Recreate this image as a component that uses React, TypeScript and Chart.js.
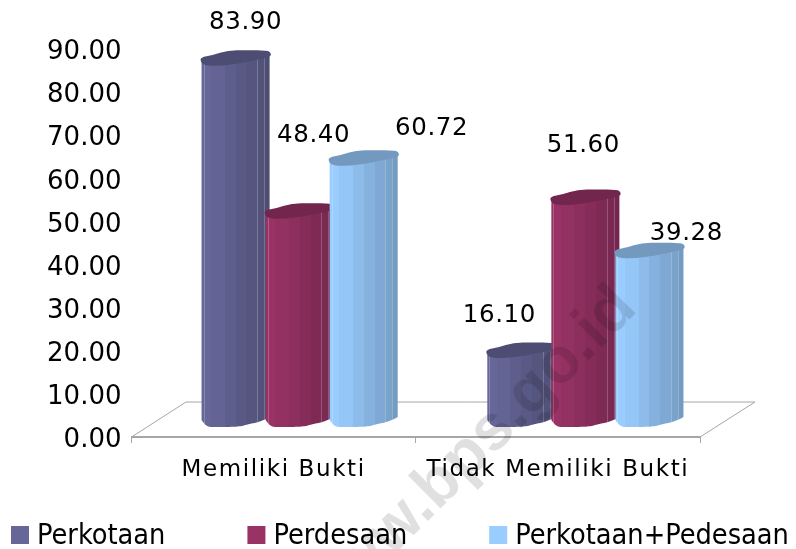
import React, { useEffect, useRef } from "react";
import { Chart, registerables } from "chart.js";

Chart.register(...registerables);

const categories = ["Memiliki Bukti", "Tidak Memiliki Bukti"];
const perkotaan = [83.9, 16.1];
const perdesaan = [48.4, 51.6];
const gabungan = [60.72, 39.28];
const seriesNames = ["Perkotaan", "Perdesaan", "Perkotaan+Pedesaan"];
const seriesColors = [[102, 102, 153], [153, 51, 102], [153, 204, 255]];
const labelOffsets = [
  [[10, -43], [-22, -42]],
  [[14, -83], [-2, -59]],
  [[68, -37], [37, -24]],
];
const groupShift = [26, 27.5];
const FONT = '"DejaVu Sans", sans-serif';

const shade = (c: number[], f: number) => `rgb(${c.map((v) => Math.round(v * f)).join(",")})`;
const facets = [
  [0, 1], [0.14, 0.97], [0.34, 0.92], [0.5, 0.87], [0.66, 0.83], [0.82, 0.8], [0.92, 0.76],
];
// outline of the slightly irregular cylinder cap, relative to its left end and lowest point
const capOutline = [
  [-1, -8], [11, -10], [26, -15], [45, -15], [66, -15], [69.5, -12], [69, -8.5], [56, -5.5], [38, -2], [21, 0.5], [4, 0.5], [-1, -3],
];

const cylinders = {
  id: "cylinders",
  afterLayout(chart: any) {
    const s = chart.scales.x;
    if (!s.__spaced) {
      const orig = s.drawLabels.bind(s);
      s.drawLabels = (area: any) => {
        chart.ctx.save();
        chart.ctx.letterSpacing = "1.6px";
        orig(area);
        chart.ctx.restore();
      };
      s.__spaced = true;
    }
  },
  beforeDatasetsDraw(chart: any) {
    const { ctx, chartArea: a } = chart;
    ctx.save();
    // floor
    ctx.strokeStyle = "#a6a6a6";
    ctx.lineWidth = 1;
    ctx.beginPath();
    ctx.moveTo(a.left, a.bottom);
    ctx.lineTo(a.left + 54.5, a.bottom - 35);
    ctx.lineTo(a.right + 55, a.bottom - 35);
    ctx.lineTo(a.right, a.bottom);
    ctx.stroke();

    chart.data.datasets.forEach((ds: any, di: number) => {
      const color = seriesColors[di];
      chart.getDatasetMeta(di).data.forEach((bar: any, i: number) => {
        const cx = bar.x + groupShift[i];
        const w = bar.width + 4;
        const x = cx - w / 2;
        const Y = bar.y - 10;
        const B = bar.base - 10;
        const u = w / 68;
        const body = new Path2D();
        body.moveTo(x, Y - 6);
        body.lineTo(x + w, Y - 10);
        body.lineTo(x + w, B - 10);
        body.bezierCurveTo(x + 60 * u, B - 5, x + 52 * u, B - 4, x + 44 * u, B - 2);
        body.bezierCurveTo(x + 38 * u, B, x + 30 * u, B, x + 9 * u, B);
        body.bezierCurveTo(x + 5 * u, B, x + 2 * u, B - 4, x, B - 7);
        body.closePath();
        const g = ctx.createLinearGradient(x, 0, x + w, 0);
        facets.forEach(([p, f], k) => {
          const next = k + 1 < facets.length ? facets[k + 1][0] : 1;
          g.addColorStop(p, shade(color, f));
          g.addColorStop(next, shade(color, f));
        });
        ctx.fillStyle = g;
        ctx.fill(body);
        ctx.save();
        ctx.clip(body);
        ctx.strokeStyle = "rgba(255,255,255,0.22)";
        ctx.lineWidth = 1;
        [0.03, 0.82, 0.92].forEach((p) => {
          const lx = Math.round(x + p * w) + 0.5;
          ctx.beginPath();
          ctx.moveTo(lx, Y - 12);
          ctx.lineTo(lx, B);
          ctx.stroke();
        });
        ctx.restore();
        const n = capOutline.length;
        const pt = (k: number) => {
          const [px, py] = capOutline[k % n];
          return [x + px * u, Y + py];
        };
        const top = new Path2D();
        const s0 = pt(0), s1 = pt(1);
        top.moveTo((s0[0] + s1[0]) / 2, (s0[1] + s1[1]) / 2);
        for (let k = 1; k <= n; k++) {
          const c = pt(k), d = pt(k + 1);
          top.quadraticCurveTo(c[0], c[1], (c[0] + d[0]) / 2, (c[1] + d[1]) / 2);
        }
        top.closePath();
        ctx.fillStyle = shade(color, 0.75);
        ctx.fill(top);
      });
    });

    // value labels
    ctx.fillStyle = "#000";
    ctx.font = `24.5px ${FONT}`;
    ctx.letterSpacing = "0.6px";
    ctx.textAlign = "center";
    ctx.textBaseline = "middle";
    chart.data.datasets.forEach((ds: any, di: number) => {
      chart.getDatasetMeta(di).data.forEach((bar: any, i: number) => {
        const [dx, dy] = labelOffsets[di][i];
        ctx.fillText(ds.data[i].toFixed(2), bar.x + groupShift[i] + dx, bar.y - 10 + dy);
      });
    });
    ctx.restore();
    return false;
  },
};

const legendAndMark = {
  id: "legendAndMark",
  afterDraw(chart: any) {
    const { ctx } = chart;
    ctx.save();
    ctx.font = `28.6px "DejaVu Sans Condensed", ${FONT}`;
    ctx.textBaseline = "middle";
    ctx.textAlign = "left";
    let x = 11;
    const y = 535;
    seriesNames.forEach((name, i) => {
      ctx.fillStyle = shade(seriesColors[i], 1);
      ctx.fillRect(x, y - 9, 18, 18);
      ctx.fillStyle = "#000";
      ctx.fillText(name, x + 26, y + 2);
      x += 26 + ctx.measureText(name).width + 82;
    });
    ctx.translate(321, 628);
    ctx.rotate((-45 * Math.PI) / 180);
    ctx.font = 'bold 64px "Liberation Sans", sans-serif';
    ctx.textBaseline = "alphabetic";
    ctx.fillStyle = "rgba(0,0,0,0.12)";
    ctx.fillText("www.bps.go.id", 0, 0);
    ctx.restore();
  },
};

export default function App() {
  const ref = useRef<HTMLCanvasElement>(null);
  useEffect(() => {
    document.body.style.margin = "0";
    const chart = new Chart(ref.current as HTMLCanvasElement, {
      type: "bar",
      data: {
        labels: categories,
        datasets: [
          { label: seriesNames[0], data: perkotaan },
          { label: seriesNames[1], data: perdesaan },
          { label: seriesNames[2], data: gabungan },
        ],
      },
      options: {
        animation: false,
        responsive: false,
        datasets: { bar: { categoryPercentage: 0.676, barPercentage: 1 } },
        layout: { padding: { top: 49, right: 96, left: 0, bottom: 0 } },
        plugins: { legend: { display: false }, tooltip: { enabled: false } },
        scales: {
          x: {
            grid: { display: true, drawOnChartArea: false, color: "#a6a6a6", tickLength: 6 },
            border: { display: true, color: "#a6a6a6", width: 2 },
            ticks: { color: "#000", font: { size: 23, family: FONT }, padding: 13, maxRotation: 0 },
            afterFit: (s: any) => { s.height = 112; },
          },
          y: {
            min: 0,
            max: 90,
            grid: { display: false },
            border: { display: false },
            afterFit: (s: any) => { s.width = 131.5; },
            ticks: {
              stepSize: 10,
              color: "#000",
              padding: 2,
              font: { size: 26, family: FONT, lineHeight: 0.27 },
              callback: (v: any) => ["", Number(v).toFixed(2)],
            },
          },
        },
      },
      plugins: [cylinders, legendAndMark],
    } as any);
    return () => chart.destroy();
  }, []);
  return <canvas ref={ref} width={796} height={549} style={{ display: "block" }} />;
}
